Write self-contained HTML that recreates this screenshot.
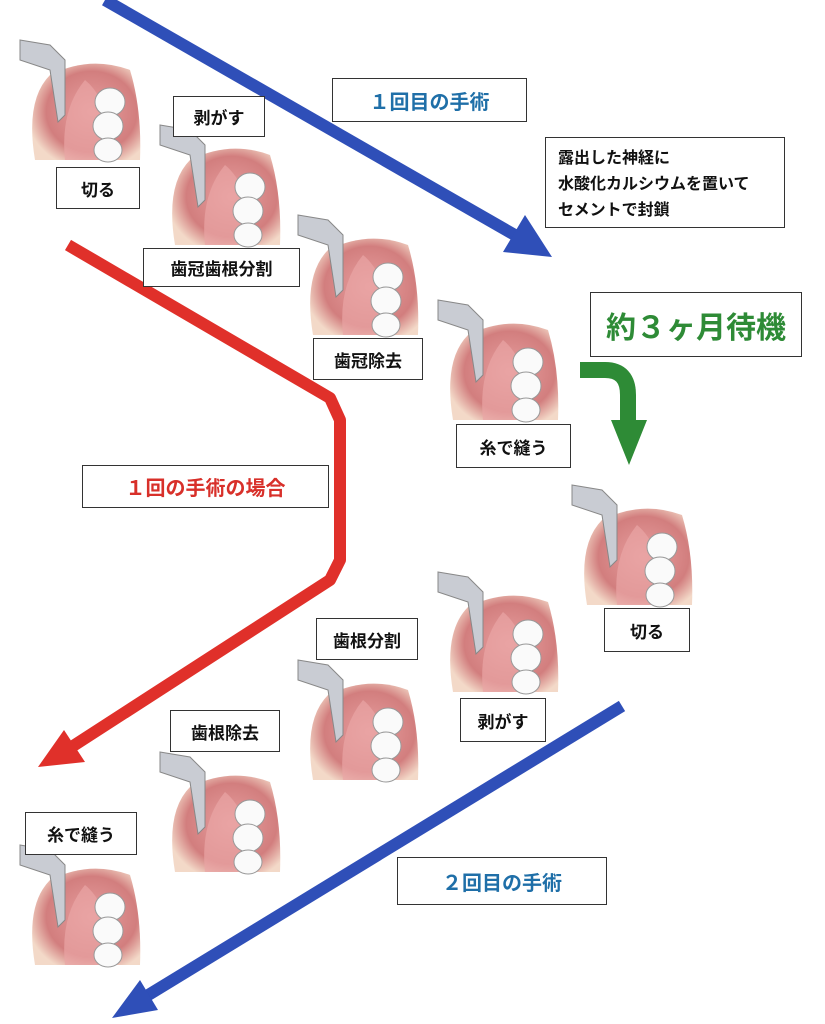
<!DOCTYPE html>
<html><head><meta charset="utf-8"><style>
body{margin:0;width:825px;height:1024px;background:#fff;position:relative;overflow:hidden;font-family:"Liberation Sans","Noto Sans CJK JP",sans-serif;}
.b{position:absolute;border:1.5px solid #333;background:#fff;box-sizing:border-box;display:flex;align-items:center;justify-content:center;font-size:17px;font-weight:bold;color:#111;}
svg{position:absolute;left:0;top:0}
</style></head><body>
<svg width="825" height="1024" viewBox="0 0 825 1024">
<defs>
<radialGradient id="g" cx="0.55" cy="0.5" r="0.6"><stop offset="0" stop-color="#e8a0a0"/><stop offset="0.7" stop-color="#d27e7e"/><stop offset="1" stop-color="#f3d9c8"/></radialGradient>
<g id="t">
<path d="M15 120 Q5 60 30 35 Q70 15 110 30 Q122 70 120 120 Z" fill="url(#g)"/>
<path d="M45 120 Q40 70 65 40 Q90 60 95 120 Z" fill="#e9a5a5" opacity="0.7"/>
<path d="M0 0 L30 5 L45 20 L45 75 L38 82 L30 30 L0 20 Z" fill="#c9ccd3" stroke="#888" stroke-width="1"/>
<ellipse cx="90" cy="62" rx="15" ry="14" fill="#fafafa" stroke="#999"/>
<ellipse cx="88" cy="86" rx="15" ry="14" fill="#fafafa" stroke="#999"/>
<ellipse cx="88" cy="110" rx="14" ry="12" fill="#fafafa" stroke="#999"/>
</g>
</defs>
<use href="#t" x="20" y="40"/>
<use href="#t" x="160" y="125"/>
<use href="#t" x="298" y="215"/>
<use href="#t" x="438" y="300"/>
<use href="#t" x="572" y="485"/>
<use href="#t" x="438" y="572"/>
<use href="#t" x="298" y="660"/>
<use href="#t" x="160" y="752"/>
<use href="#t" x="20" y="845"/>
<!-- blue top -->
<line x1="105" y1="0" x2="520" y2="238" stroke="#2f4fb8" stroke-width="12"/>
<polygon points="552,257 503,252 525,215" fill="#2f4fb8"/>
<!-- red -->
<polyline points="68,245 330,398 340,420 340,560 330,580 70,748" fill="none" stroke="#e0302a" stroke-width="12" stroke-linejoin="round"/>
<polygon points="38,767 64,730 85,762" fill="#e0302a"/>
<!-- green -->
<path d="M580 370 L605 370 Q628 370 628 395 L628 422" fill="none" stroke="#2e8b36" stroke-width="16"/>
<polygon points="611,420 647,420 629,465" fill="#2e8b36"/>
<!-- blue bottom -->
<line x1="622" y1="706" x2="145" y2="997" stroke="#2f4fb8" stroke-width="12"/>
<polygon points="112,1018 140,980 158,1010" fill="#2f4fb8"/>
</svg>
<div class="b" style="left:56px;top:167px;width:84px;height:42px">切る</div>
<div class="b" style="left:173px;top:96px;width:92px;height:41px">剥がす</div>
<div class="b" style="left:143px;top:248px;width:157px;height:39px">歯冠歯根分割</div>
<div class="b" style="left:313px;top:338px;width:110px;height:42px">歯冠除去</div>
<div class="b" style="left:456px;top:424px;width:115px;height:44px">糸で縫う</div>
<div class="b" style="left:604px;top:608px;width:86px;height:44px">切る</div>
<div class="b" style="left:460px;top:698px;width:86px;height:44px">剥がす</div>
<div class="b" style="left:316px;top:618px;width:102px;height:42px">歯根分割</div>
<div class="b" style="left:170px;top:710px;width:110px;height:42px">歯根除去</div>
<div class="b" style="left:25px;top:812px;width:112px;height:43px">糸で縫う</div>
<div class="b" style="left:332px;top:78px;width:195px;height:44px;color:#1f6fa8;font-size:20px">１回目の手術</div>
<div class="b" style="left:545px;top:137px;width:240px;height:91px;justify-content:flex-start;align-items:flex-start;padding:8px 12px;font-size:16px;line-height:26px;font-weight:bold">露出した神経に<br>水酸化カルシウムを置いて<br>セメントで封鎖</div>
<div class="b" style="left:590px;top:292px;width:212px;height:65px;color:#2e8b36;font-size:30px">約３ヶ月待機</div>
<div class="b" style="left:82px;top:465px;width:247px;height:43px;color:#d8302a;font-size:20px">１回の手術の場合</div>
<div class="b" style="left:397px;top:857px;width:210px;height:48px;color:#1f6fa8;font-size:20px">２回目の手術</div>
</body></html>
